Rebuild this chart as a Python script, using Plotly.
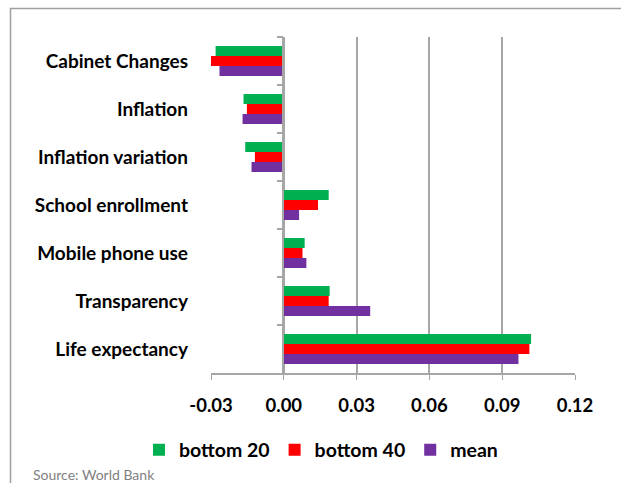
import plotly.graph_objects as go

categories = ["Cabinet Changes", "Inflation", "Inflation variation", "School enrollment",
              "Mobile phone use", "Transparency", "Life expectancy"]
bottom20 = [-0.0281, -0.0166, -0.0159, 0.0185, 0.0086, 0.0189, 0.1019]
bottom40 = [-0.0302, -0.0152, -0.0119, 0.0141, 0.0077, 0.0185, 0.1012]
mean_vals = [-0.0265, -0.0170, -0.0133, 0.0063, 0.0093, 0.0356, 0.0967]
x_ticks = [-0.03, 0.00, 0.03, 0.06, 0.09, 0.12]
x_tick_labels = ["-0.03", "0.00", "0.03", "0.06", "0.09", "0.12"]

series = [("bottom 20", bottom20, "#00B050"),
          ("bottom 40", bottom40, "#FF0000"),
          ("mean", mean_vals, "#7030A0")]

FONT = "Lato"
GRID = "#a6a6a6"

fig = go.Figure()
for name, vals, col in series:
    fig.add_trace(go.Bar(y=categories, x=vals, name=name, orientation="h",
                         marker=dict(color=col, line=dict(width=0))))

# invisible helper trace to carry the category axis drawn at zero
fig.add_trace(go.Scatter(y=categories, x=[0] * len(categories), yaxis="y2",
                         mode="markers", marker=dict(opacity=0), showlegend=False,
                         hoverinfo="skip"))

L, R, T, B = 211, 46, 37, 110
pw = 621 - L - R
ph = 483 - T - B
zero_pos = (283.3 - L) / pw

fig.update_layout(
    width=621, height=483,
    margin=dict(l=L, r=R, t=T, b=B, pad=0, autoexpand=False),
    paper_bgcolor="white", plot_bgcolor="white",
    barmode="group", bargap=0.375, bargroupgap=0,
    font=dict(family=FONT, color="#000000"),
    xaxis=dict(range=[-0.03, 0.12], tickvals=x_ticks, ticktext=x_tick_labels,
               showgrid=True, gridcolor=GRID, gridwidth=1.5,
               zeroline=False, showline=True, linecolor=GRID, linewidth=1.5,
               ticks="outside", ticklen=5, tickcolor=GRID, tickwidth=1,
               ticklabelstandoff=10, automargin=False,
               tickfont=dict(family=FONT, size=18.5, color="#000000", weight="bold")),
    yaxis=dict(type="category", categoryorder="array", categoryarray=categories,
               range=[6.5, -0.5], showgrid=False, zeroline=False, showline=False,
               ticks="", ticklabelstandoff=22, automargin=False,
               tickfont=dict(family=FONT, size=19, color="#000000", weight="bold")),
    yaxis2=dict(type="category", categoryorder="array", categoryarray=categories,
                range=[6.5, -0.5], overlaying="y", anchor="free", position=zero_pos,
                side="left", showgrid=False, zeroline=False, showline=True,
                linecolor=GRID, linewidth=1.5, ticks="outside", tickson="boundaries",
                ticklen=6, tickcolor=GRID, tickwidth=1.5, showticklabels=False),
    legend=dict(orientation="h", x=(139 - L) / pw, xanchor="left",
                y=(T + ph - 450) / ph, yanchor="middle",
                font=dict(family=FONT, size=19.5, color="#000000", weight="bold"),
                itemwidth=30, tracegroupgap=0, bgcolor="rgba(0,0,0,0)"),
    showlegend=True,
)

fig.add_annotation(text="Source: World Bank", xref="paper", yref="paper",
                   x=(31 - L) / pw, y=(T + ph - 474) / ph, xanchor="left", yanchor="middle",
                   showarrow=False, font=dict(family=FONT, size=14, color="#7f7f7f"))

# outer frame (cropped chart border)
fx = (10.5 - L) / pw
fy = (T + ph - 8.5) / ph
fig.add_shape(type="path", xref="paper", yref="paper",
              path=f"M {fx} {-1} L {fx} {fy} L 2 {fy}",
              line=dict(color="#a0a0a0", width=1.5), layer="above")

fig.write_html("out.html", config={"displayModeBar": False},
               post_script="document.body.style.margin='0';document.body.style.overflow='hidden';")
